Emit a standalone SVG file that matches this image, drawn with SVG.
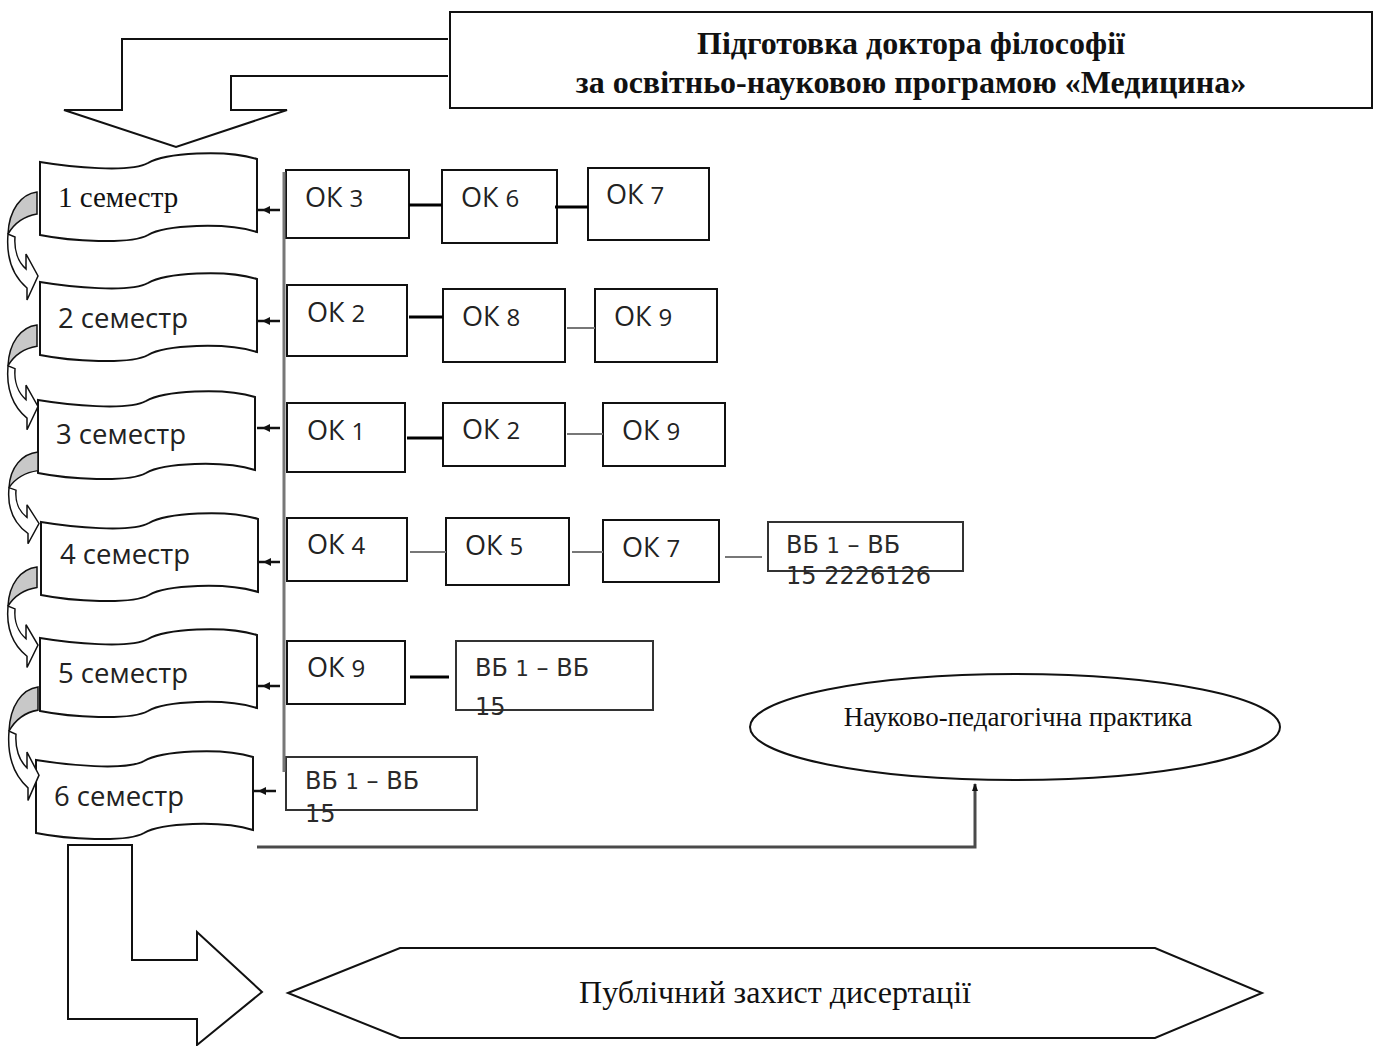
<svg xmlns="http://www.w3.org/2000/svg" xmlns:xlink="http://www.w3.org/1999/xlink" width="1376" height="1046" viewBox="0 0 1376 1046">
<style>
.box{fill:#fff;stroke:#111;stroke-width:2}
.shape{fill:#fff;stroke:#111;stroke-width:2;stroke-linejoin:miter}
.sans{font-family:"Open Sans","DejaVu Sans",sans-serif;fill:#222}
.serif{font-family:"Liberation Serif","Times New Roman",serif;fill:#111}
.ok{font-size:27px}
.vb{font-family:"DejaVu Sans",sans-serif;font-size:24px;fill:#2a2a2a}
.sem{font-size:27.5px}
.lnk{stroke:#000;stroke-width:3}
.lnkg{stroke:#777;stroke-width:2}
</style>
<defs>
<path id="wave" d="M 0,11 C 30,16 90,22 108,12 C 125,2 185,-2 217,8 L 217,81 C 185,71 125,74 108,84 C 90,94 30,90 0,84 Z"/>
<g id="curl">
<path d="M 0,0 C -16,2 -28,18 -29,42 C -22,30 -12,24 0,22 Z" fill="#c8c8c8" stroke="#111" stroke-width="1.5"/>
<path d="M -29,42 C -31,66 -24,84 -10,96 L -10,108 L 1,84 L -11,62 L -11,77 C -19,70 -23,58 -22,45 Z" fill="#fff" stroke="#111" stroke-width="1.5"/>
</g>
<marker id="ah" markerWidth="8" markerHeight="8" refX="7" refY="4" orient="auto" markerUnits="userSpaceOnUse">
<path d="M0,1 L8,4 L0,7 Z" fill="#111"/>
</marker>
</defs>

<g id="title">
<rect x="450" y="12" width="922" height="96" class="box"/>
<text x="911" y="54" text-anchor="middle" class="serif" font-size="32" font-weight="bold">Підготовка доктора філософії</text>
<text x="911" y="93" text-anchor="middle" class="serif" font-size="32" font-weight="bold">за освітньо-науковою програмою «Медицина»</text>
</g>

<g id="top-arrow">
<path class="shape" d="M 448,39 L 122,39 L 122,110 L 64,110 L 176,147 L 287,110 L 231,110 L 231,76 L 448,76"/>
</g>

<g id="sem1"><use href="#wave" xlink:href="#wave" transform="translate(40,151)" class="shape"/><text x="58" y="207" class="serif" font-size="29">1 семестр</text></g>
<g id="sem2"><use href="#wave" xlink:href="#wave" transform="translate(40,271)" class="shape"/><text x="58" y="328" class="sans sem">2 семестр</text></g>
<g id="sem3"><use href="#wave" xlink:href="#wave" transform="translate(38,389)" class="shape"/><text x="56" y="444" class="sans sem">3 семестр</text></g>
<g id="sem4"><use href="#wave" xlink:href="#wave" transform="translate(41,511)" class="shape"/><text x="60" y="564" class="sans sem">4 семестр</text></g>
<g id="sem5"><use href="#wave" xlink:href="#wave" transform="translate(40,627)" class="shape"/><text x="58" y="683" class="sans sem">5 семестр</text></g>
<g id="sem6"><use href="#wave" xlink:href="#wave" transform="translate(36,749)" class="shape"/><text x="54" y="806" class="sans sem">6 семестр</text></g>

<g id="curls">
<use href="#curl" xlink:href="#curl" transform="translate(37,192)"/>
<use href="#curl" xlink:href="#curl" transform="translate(37,325) scale(1,0.97)"/>
<use href="#curl" xlink:href="#curl" transform="translate(38,452) scale(1,0.85)"/>
<use href="#curl" xlink:href="#curl" transform="translate(37,567) scale(1,0.93)"/>
<use href="#curl" xlink:href="#curl" transform="translate(38,687) scale(1,1.05)"/>
</g>

<g id="ok3"><rect x="286" y="170" width="123" height="68" class="box"/><text x="305" y="207" class="sans ok">ОК <tspan font-size="24">3</tspan></text></g>
<g id="ok6"><rect x="442" y="170" width="115" height="73" class="box"/><text x="461" y="207" class="sans ok">ОК <tspan font-size="24">6</tspan></text></g>
<g id="ok7a"><rect x="588" y="168" width="121" height="72" class="box"/><text x="606" y="204" class="sans ok">ОК <tspan font-size="24">7</tspan></text></g>

<g id="ok2a"><rect x="287" y="285" width="120" height="71" class="box"/><text x="307" y="322" class="sans ok">ОК <tspan font-size="24">2</tspan></text></g>
<g id="ok8"><rect x="443" y="289" width="122" height="73" class="box"/><text x="462" y="326" class="sans ok">ОК <tspan font-size="24">8</tspan></text></g>
<g id="ok9a"><rect x="595" y="289" width="122" height="73" class="box"/><text x="614" y="326" class="sans ok">ОК <tspan font-size="24">9</tspan></text></g>

<g id="ok1"><rect x="287" y="403" width="118" height="69" class="box"/><text x="307" y="440" class="sans ok">ОК <tspan font-size="24">1</tspan></text></g>
<g id="ok2b"><rect x="443" y="403" width="122" height="63" class="box"/><text x="462" y="439" class="sans ok">ОК <tspan font-size="24">2</tspan></text></g>
<g id="ok9b"><rect x="603" y="403" width="122" height="63" class="box"/><text x="622" y="440" class="sans ok">ОК <tspan font-size="24">9</tspan></text></g>

<g id="ok4"><rect x="287" y="518" width="120" height="63" class="box"/><text x="307" y="554" class="sans ok">ОК <tspan font-size="24">4</tspan></text></g>
<g id="ok5"><rect x="446" y="518" width="123" height="67" class="box"/><text x="465" y="555" class="sans ok">ОК <tspan font-size="24">5</tspan></text></g>
<g id="ok7b"><rect x="603" y="520" width="116" height="62" class="box"/><text x="622" y="557" class="sans ok">ОК <tspan font-size="24">7</tspan></text></g>
<g id="vb4"><rect x="768" y="522" width="195" height="49" class="box" style="stroke:#333"/><text x="786" y="553" class="vb">ВБ <tspan font-size="21">1</tspan> – ВБ</text><text x="786" y="584" class="vb">15 2226126</text></g>

<g id="ok9c"><rect x="287" y="641" width="118" height="63" class="box"/><text x="307" y="677" class="sans ok">ОК <tspan font-size="24">9</tspan></text></g>
<g id="vb5"><rect x="456" y="641" width="197" height="69" class="box" style="stroke:#333"/><text x="475" y="676" class="vb">ВБ <tspan font-size="21">1</tspan> – ВБ</text><text x="475" y="715" class="vb">15</text></g>

<g id="vb6"><rect x="286" y="757" width="191" height="53" class="box" style="stroke:#333"/><text x="305" y="789" class="vb">ВБ <tspan font-size="21">1</tspan> – ВБ</text><text x="305" y="822" class="vb">15</text></g>

<g id="practice"><ellipse cx="1015" cy="727" rx="265" ry="53" class="box"/><text x="1018" y="726" text-anchor="middle" class="serif" font-size="27">Науково-педагогічна практика</text></g>

<g id="bottom-arrow"><path class="shape" d="M 68,845 L 132,845 L 132,960 L 197,960 L 197,932 L 262,992 L 197,1045 L 197,1019 L 68,1019 Z"/></g>

<g id="defense"><path class="shape" d="M 288,993 L 400,948 L 1155,948 L 1262,993 L 1155,1038 L 400,1038 Z"/><text x="775" y="1003" text-anchor="middle" class="serif" font-size="32">Публічний захист дисертації</text></g>

<g id="connectors">
<line x1="284" y1="172" x2="284" y2="772" stroke="#777" stroke-width="3"/>
<g stroke="#111" stroke-width="2.5">
<line x1="280" y1="210" x2="257" y2="210"/>
<line x1="280" y1="321" x2="257" y2="321"/>
<line x1="280" y1="428" x2="257" y2="428"/>
<line x1="280" y1="562" x2="259" y2="562"/>
<line x1="280" y1="686" x2="257" y2="686"/>
<line x1="276" y1="791" x2="253" y2="791"/>
</g>
<g fill="#111">
<path d="M 262,210 L 270,206 L 270,214 Z"/>
<path d="M 262,321 L 270,317 L 270,325 Z"/>
<path d="M 262,428 L 270,424 L 270,432 Z"/>
<path d="M 263,562 L 271,558 L 271,566 Z"/>
<path d="M 262,686 L 270,682 L 270,690 Z"/>
<path d="M 258,791 L 266,787 L 266,795 Z"/>
</g>
<line x1="409" y1="205" x2="442" y2="205" class="lnk"/>
<line x1="555" y1="207" x2="588" y2="207" class="lnk"/>
<line x1="409" y1="317" x2="443" y2="317" class="lnk"/>
<line x1="567" y1="328" x2="595" y2="328" class="lnkg"/>
<line x1="407" y1="438" x2="443" y2="438" class="lnk"/>
<line x1="567" y1="434" x2="603" y2="434" class="lnkg"/>
<line x1="410" y1="552" x2="446" y2="552" class="lnkg"/>
<line x1="572" y1="552" x2="603" y2="552" class="lnkg"/>
<line x1="725" y1="557" x2="762" y2="557" class="lnkg"/>
<line x1="410" y1="677" x2="449" y2="677" class="lnk"/>
<polyline points="257,847 975,847 975,784" fill="none" stroke="#4a4a4a" stroke-width="3" marker-end="url(#ah)"/>
</g>
</svg>
